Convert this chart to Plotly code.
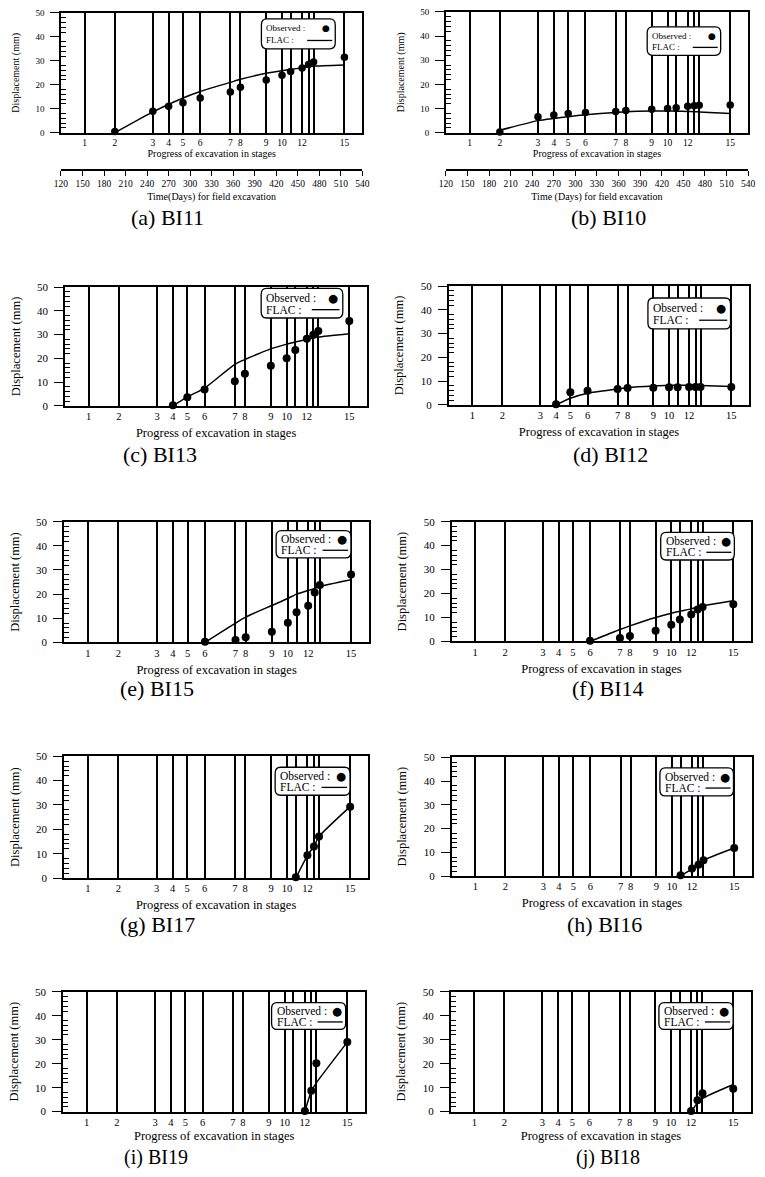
import plotly.graph_objects as go

W, H = 765, 1177
FONT = "Liberation Serif"

# ---------------- data ----------------
STAGE_DAYS = [153, 195, 248, 270, 290, 314, 356, 370, 406, 428, 440, 456, 465, 472, 515]
STAGE_LABELS = ["1", "2", "3", "4", "5", "6", "7", "8", "9", "10", "", "12", "", "", "15"]
TIME_TICKS = [120, 150, 180, 210, 240, 270, 300, 330, 360, 390, 420, 450, 480, 510, 540]
Y_MAJOR = [0, 10, 20, 30, 40, 50]
Y_MINOR = [2, 4, 6, 8, 12, 14, 16, 18, 22, 24, 26, 28, 32, 34, 36, 38, 42, 44, 46, 48]

bi11_stages = [2, 3, 4, 5, 6, 7, 8, 9, 10, 11, 12, 13, 14, 15]
bi11_obs = [0.5, 9.0, 11.0, 12.5, 14.5, 17.0, 19.0, 22.0, 24.0, 25.5, 27.0, 28.5, 29.5, 31.5]
bi11_flac = [0.0, 8.7, 11.8, 14.5, 17.2, 21.0, 22.3, 24.8, 25.9, 26.4, 27.1, 27.5, 27.8, 28.3]

bi10_stages = [2, 3, 4, 5, 6, 7, 8, 9, 10, 11, 12, 13, 14, 15]
bi10_obs = [0.3, 6.6, 7.3, 7.9, 8.4, 8.8, 9.2, 9.7, 10.0, 10.3, 11.0, 11.2, 11.4, 11.5]
bi10_flac = [1.0, 5.0, 5.9, 6.6, 7.4, 8.4, 8.7, 9.0, 9.0, 8.9, 8.8, 8.7, 8.6, 7.9]

bi13_stages = [4, 5, 6, 7, 8, 9, 10, 11, 12, 13, 14, 15]
bi13_obs = [0.3, 3.6, 6.9, 10.4, 13.5, 16.9, 20.1, 23.5, 28.3, 29.9, 31.5, 35.7]
bi13_flac = [0.0, 3.8, 7.5, 17.5, 19.5, 24.0, 26.0, 26.9, 28.0, 28.6, 29.0, 30.4]

bi12_stages = [4, 5, 6, 7, 8, 9, 10, 11, 12, 13, 14, 15]
bi12_obs = [0.3, 5.3, 6.0, 6.7, 7.1, 7.2, 7.4, 7.4, 7.5, 7.5, 7.5, 7.5]
bi12_flac = [0.0, 2.8, 4.9, 6.7, 7.3, 8.0, 8.2, 8.3, 8.3, 8.3, 8.2, 7.7]

bi15_stages = [6, 7, 8, 9, 10, 11, 12, 13, 14, 15]
bi15_obs = [0.3, 1.0, 2.2, 4.4, 8.2, 12.5, 15.2, 20.7, 23.8, 28.1]
bi15_flac = [0.0, 8.0, 10.5, 15.3, 18.2, 20.0, 21.5, 22.4, 23.2, 26.0]

bi14_stages = [6, 7, 8, 9, 10, 11, 12, 13, 14, 15]
bi14_obs = [0.3, 1.4, 2.3, 4.5, 7.0, 9.2, 11.3, 13.3, 14.4, 15.5]
bi14_flac = [0.0, 5.0, 6.5, 10.0, 11.8, 12.6, 13.6, 14.4, 14.9, 17.0]

bi17_stages = [11, 12, 13, 14, 15]
bi17_obs = [0.3, 9.4, 12.9, 17.0, 29.3]
bi17_flac = [0.0, 9.2, 13.0, 17.0, 29.3]

bi16_stages = [11, 12, 13, 14, 15]
bi16_obs = [0.3, 3.2, 4.8, 6.6, 11.8]
bi16_flac = [0.0, 3.0, 4.8, 6.6, 11.8]

bi19_stages = [12, 13, 14, 15]
bi19_obs = [0.3, 8.7, 20.2, 29.1]
bi19_flac = [0.0, 8.5, 12.0, 29.0]

bi18_stages = [12, 13, 14, 15]
bi18_obs = [0.3, 4.7, 7.7, 9.5]
bi18_flac = [0.0, 3.6, 5.5, 11.3]

captions = ["(a) BI11", "(b) BI10", "(c) BI13", "(d) BI12", "(e) BI15",
            "(f) BI14", "(g) BI17", "(h) BI16", "(i) BI19", "(j) BI18"]
series = [
    (bi11_stages, bi11_obs, bi11_flac), (bi10_stages, bi10_obs, bi10_flac),
    (bi13_stages, bi13_obs, bi13_flac), (bi12_stages, bi12_obs, bi12_flac),
    (bi15_stages, bi15_obs, bi15_flac), (bi14_stages, bi14_obs, bi14_flac),
    (bi17_stages, bi17_obs, bi17_flac), (bi16_stages, bi16_obs, bi16_flac),
    (bi19_stages, bi19_obs, bi19_flac), (bi18_stages, bi18_obs, bi18_flac),
]

# ---------------- layout (pixel frames) ----------------
frames = [
    (55, 362, 7, 128), (447, 755, 6, 128),
    (59, 367, 284, 404), (450, 756, 283, 403),
    (58, 369, 521, 643), (453, 758, 521, 642),
    (58, 368, 758, 881), (453, 759, 759, 879),
    (57, 365, 996, 1117), (452, 758, 996, 1117),
]
legend_boxes = [
    (0.665, 0.91, 0.70, 0.95), (0.666, 0.909, 0.64, 0.877),
    (0.649, 0.919, 0.74, 0.99), (0.663, 0.938, 0.64, 0.90),
    (0.695, 0.94, 0.70, 0.926), (0.698, 0.944, 0.68, 0.91),
    (0.694, 0.94, 0.68, 0.91), (0.693, 0.938, 0.675, 0.91),
    (0.69, 0.935, 0.686, 0.91), (0.693, 0.94, 0.686, 0.91),
]
caption_pos = [(163, 214), (613, 214), (156, 453), (615, 453), (153, 690),
               (612, 690), (153, 928), (609, 928), (152, 1163), (612, 1163)]
MINOR_LEN = 5


def rounded_box(x0, x1, y0, y1, rx, ry):
    return (f"M {x0+rx},{y0} L {x1-rx},{y0} Q {x1},{y0} {x1},{y0+ry} "
            f"L {x1},{y1-ry} Q {x1},{y1} {x1-rx},{y1} L {x0+rx},{y1} "
            f"Q {x0},{y1} {x0},{y1-ry} L {x0},{y0+ry} Q {x0},{y0} {x0+rx},{y0} Z")


fig = go.Figure()
layout = {}
shapes = []
annotations = []

for i, ((stages, obs, flac), (fx0, fx1, fy0, fy1)) in enumerate(zip(series, frames), start=1):
    xa = "x" if i == 1 else f"x{i}"
    ya = "y" if i == 1 else f"y{i}"
    xkey = "xaxis" if i == 1 else f"xaxis{i}"
    ykey = "yaxis" if i == 1 else f"yaxis{i}"
    mkey, mname = f"yaxis{12 + i}", f"y{12 + i}"
    top = i <= 2
    bottom = i >= 9
    days = [STAGE_DAYS[s - 1] for s in stages]

    fig.add_trace(go.Scatter(x=days, y=flac, mode="lines", xaxis=xa, yaxis=ya,
                             line=dict(color="black", width=1.5, shape="spline", smoothing=0.6),
                             showlegend=False, hoverinfo="skip", cliponaxis=False))
    fig.add_trace(go.Scatter(x=days, y=obs, mode="markers", xaxis=xa, yaxis=ya,
                             marker=dict(color="black", size=8 if not top else 7.5),
                             showlegend=False, cliponaxis=False))
    # dummy trace to carry the minor-tick axis
    fig.add_trace(go.Scatter(x=[STAGE_DAYS[0], STAGE_DAYS[-1]], y=[None, None], xaxis=xa,
                             yaxis=mname, mode="lines", showlegend=False, hoverinfo="skip"))

    fs_tick = 9.5 if top else 10.5
    fs_ytick = 9 if top else 11
    fs_title = 10 if top else 12.5
    layout[xkey] = dict(
        domain=[fx0 / W, fx1 / W], anchor=ya, range=[120, 540],
        tickmode="array", tickvals=STAGE_DAYS, ticktext=STAGE_LABELS,
        showgrid=True, gridcolor="black", gridwidth=1.6,
        showline=True, mirror=True, linecolor="black", linewidth=1.6,
        ticks="", zeroline=False, tickfont=dict(size=fs_tick, family=FONT, color="black"),
        title=dict(text="Progress of excavation in stages",
                   font=dict(size=fs_title, family=FONT, color="black"),
                   standoff=3 if top else (4 if bottom else 7)),
        fixedrange=True,
    )
    layout[ykey] = dict(
        domain=[1 - fy1 / H, 1 - fy0 / H], anchor=xa, range=[0, 50],
        tickmode="array", tickvals=Y_MAJOR,
        ticks="outside", ticklen=9, tickwidth=1.3, tickcolor="black",
        ticklabelstandoff=4,
        showline=True, mirror=True, linecolor="black", linewidth=1.6,
        showgrid=False, zeroline=False,
        tickfont=dict(size=fs_ytick, family=FONT, color="black"),
        title=dict(text="Displacement (mm)", font=dict(size=fs_title, family=FONT, color="black"),
                   standoff=14),
        fixedrange=True,
    )
    # minor ticks: a free axis placed just inside the frame, ticks pointing back to the frame edge
    layout[mkey] = dict(
        overlaying=ya, anchor="free", position=(fx0 + MINOR_LEN) / W, side="left",
        range=[0, 50], tickmode="array", tickvals=Y_MINOR,
        ticks="outside", ticklen=MINOR_LEN, tickwidth=1.1, tickcolor="black",
        showticklabels=False, showline=False, showgrid=False, zeroline=False,
        fixedrange=True,
    )

    # legend box
    bx0, bx1, by0, by1 = legend_boxes[i - 1]
    bw, bh = bx1 - bx0, by1 - by0
    shapes.append(dict(type="path", xref=f"{xa} domain", yref=f"{ya} domain",
                       path=rounded_box(bx0, bx1, by0, by1, 0.018, 0.05),
                       line=dict(color="black", width=1.3), fillcolor="white", layer="above"))
    fs_leg = 9 if top else 11.5
    r1 = by1 - 0.32 * bh
    r2 = by1 - 0.72 * bh
    annotations.append(dict(text="Observed :", xref=f"{xa} domain", yref=f"{ya} domain",
                            x=bx0 + 0.04 * bw, y=r1, xanchor="left", yanchor="middle",
                            showarrow=False, font=dict(size=fs_leg, family=FONT, color="black")))
    annotations.append(dict(text="FLAC :", xref=f"{xa} domain", yref=f"{ya} domain",
                            x=bx0 + 0.04 * bw, y=r2, xanchor="left", yanchor="middle",
                            showarrow=False, font=dict(size=fs_leg, family=FONT, color="black")))
    annotations.append(dict(text="●", xref=f"{xa} domain", yref=f"{ya} domain",
                            x=bx0 + 0.88 * bw, y=r1, xanchor="center", yanchor="middle",
                            showarrow=False, font=dict(size=fs_leg, family="DejaVu Sans", color="black")))
    shapes.append(dict(type="line", xref=f"{xa} domain", yref=f"{ya} domain",
                       x0=bx0 + 0.62 * bw, x1=bx0 + 0.96 * bw, y0=r2, y1=r2,
                       line=dict(color="black", width=1.3), layer="above"))

    cx, cy = caption_pos[i - 1]
    annotations.append(dict(text=captions[i - 1], xref="paper", yref="paper",
                            x=cx / W, y=1 - cy / H, xanchor="center", yanchor="middle",
                            showarrow=False,
                            font=dict(size=20 if bottom else 22, family=FONT, color="black")))

# time axes for (a) and (b)
time_titles = ["Time(Days) for field excavation", "Time (Days) for field excavation"]
for k, (base, tkey, tname) in enumerate([("x", "xaxis11", "x11"), ("x2", "xaxis12", "x12")]):
    fig.add_trace(go.Scatter(x=[TIME_TICKS[0], TIME_TICKS[-1]], y=[None, None], xaxis=tname,
                             yaxis="y" if k == 0 else "y2", mode="lines", showlegend=False,
                             hoverinfo="skip"))
    layout[tkey] = dict(
        overlaying=base, anchor="free", position=1 - 166 / H, side="bottom",
        range=[120, 540], tickmode="array", tickvals=TIME_TICKS,
        ticks="outside", ticklen=5, tickwidth=1.2, tickcolor="black",
        showline=True, linecolor="black", linewidth=1.5, showgrid=False, zeroline=False,
        tickfont=dict(size=9.5, family=FONT, color="black"),
        title=dict(text=time_titles[k], font=dict(size=10, family=FONT, color="black"), standoff=4),
        fixedrange=True,
    )

fig.update_layout(
    width=W, height=H, autosize=False,
    margin=dict(l=0, r=0, t=0, b=0),
    paper_bgcolor="white", plot_bgcolor="white",
    font=dict(family=FONT, color="black"),
    shapes=shapes, annotations=annotations,
    showlegend=False,
    **layout,
)

fig.write_html("out.html", post_script="document.body.style.margin='0';",
               config={"displayModeBar": False})
